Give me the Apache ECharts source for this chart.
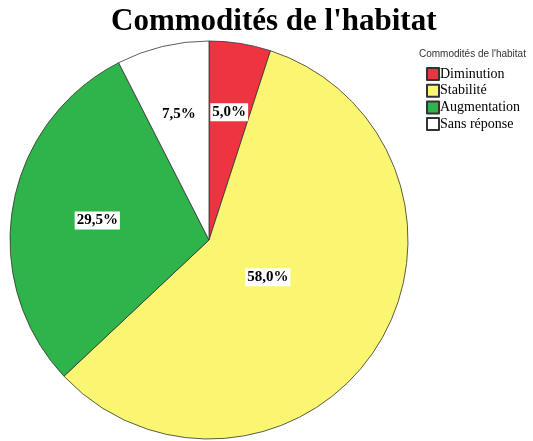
<!DOCTYPE html>
<html><head><meta charset="utf-8">
<script src="https://cdn.jsdelivr.net/npm/echarts@6/dist/echarts.min.js"></script>
<style>html,body{margin:0;padding:0;background:#fff}#c{width:533px;height:441px}</style>
</head><body><div id="c"></div>
<script>
var categories = ['Diminution', 'Stabilité', 'Augmentation', 'Sans réponse'];
var values = [5.0, 58.0, 29.5, 7.5];
var colors = ['#ee3440', '#fbf672', '#2eb44b', '#ffffff'];
var labelRadiusFrac = [0.65, 0.35, 0.57, 0.65];

var CX = 209, CY = 240, R = 199;
var total = values.reduce(function(a,b){return a+b;},0);
var mids = [], acc = 0;
values.forEach(function(v){ mids.push((acc + v/2)/total*2*Math.PI); acc += v; });

var chart = echarts.init(document.getElementById('c'), null, {renderer:'canvas'});
chart.setOption({
  animation:false,
  title:[{
    text:"Commodités de l'habitat", left:111, top:6, padding:0,
    textStyle:{fontFamily:'Liberation Serif', fontWeight:'bold', fontSize:31, color:'#000'}
  },{
    text:"Commodités de l'habitat", left:414, top:44,
    textStyle:{fontFamily:'Liberation Sans', fontWeight:'normal', fontSize:10, color:'#333'}
  }],
  legend:{
    orient:'vertical', left:421, top:62, itemWidth:12, itemHeight:12, itemGap:2.7,
    icon:'rect', data:categories,
    textStyle:{fontFamily:'Liberation Serif', fontSize:14, color:'#000', padding:[0,0,0,-4]}
  },
  series:[{
    type:'pie', center:[CX, CY], radius:[0, R], startAngle:90, clockwise:true,
    avoidLabelOverlap:false,
    data: categories.map(function(c,i){ return {name:c, value:values[i], itemStyle:{color:colors[i]}}; }),
    itemStyle:{borderColor:'#333', borderWidth:0.8},
    label:{
      show:true, position:'inside',
      formatter:function(p){ return p.value.toFixed(1).replace('.', ',') + '%'; },
      fontFamily:'Liberation Serif', fontWeight:'bold', fontSize:15, color:'#000',
      backgroundColor:'#fff', padding:[2,2,1,2]
    },
    labelLine:{show:false},
    labelLayout:function(p){
      var i = p.dataIndex, a = mids[i], d = labelRadiusFrac[i]*R;
      return {x: CX + Math.sin(a)*d, y: CY - Math.cos(a)*d};
    }
  }]
});
</script></body></html>
